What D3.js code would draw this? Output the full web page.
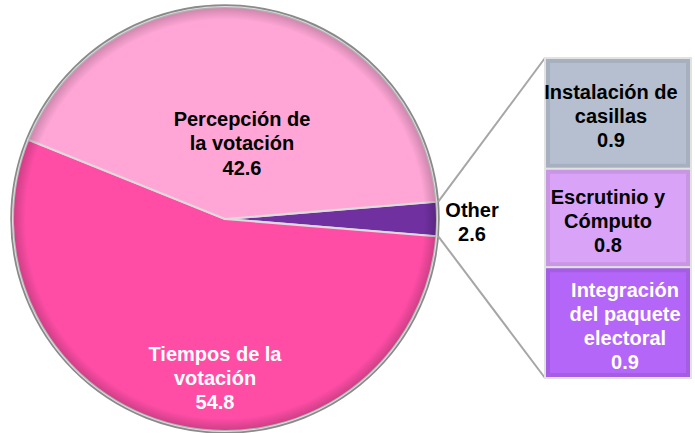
<!DOCTYPE html>
<meta charset="utf-8">
<html>
<script src='https://d3js.org/d3.v7.min.js'></script>
<body style="margin:0; background:#fff;">
<style>
    .lbl {
        font-family: "Liberation Sans", Arial, sans-serif;
        font-weight: bold;
        font-size: 20px;
    }
</style>
<div id="mydataviz"></div>

<script>
    // pie data
    var pieNames = ["Other", "Tiempos de la votación", "Percepción de la votación"];
    var pieValues = [2.6, 54.8, 42.6];
    var pieLabels = [["Other", "2.6"], ["Tiempos de la", "votación", "54.8"], ["Percepción de", "la votación", "42.6"]];
    var pieColors = ["#7030a0", "#ff4da6", "#ffa6d6"];

    // bar (breakdown of Other) data, top to bottom
    var barNames = ["Instalación de casillas", "Escrutinio y Cómputo", "Integración del paquete electoral"];
    var barValues = [0.9, 0.8, 0.9];
    var barLabels = [["Instalación de", "casillas", "0.9"], ["Escrutinio y", "Cómputo", "0.8"], ["Integración", "del paquete", "electoral", "0.9"]];
    var barColors = ["#b5bfcf", "#d9a3f7", "#b366f7"];

    var width = 695, height = 433;
    var cx = 225, cy = 219, radius = 212;

    var svg = d3.select("#mydataviz").append("svg")
        .attr("width", width)
        .attr("height", height);

    var defs = svg.append("defs");
    var rim = defs.append("radialGradient").attr("id", "rim")
        .attr("cx", "50%").attr("cy", "50%").attr("r", "50%");
    rim.append("stop").attr("offset", "94%").attr("stop-color", "#000").attr("stop-opacity", 0);
    rim.append("stop").attr("offset", "100%").attr("stop-color", "#000").attr("stop-opacity", 0.2);

    // Other slice centered on 3 o'clock
    var otherAngle = pieValues[0] / d3.sum(pieValues) * 2 * Math.PI;
    var a0 = Math.PI / 2 - otherAngle / 2;

    var pie = d3.pie().sort(null).value(function(d) {return d;})
        .startAngle(a0).endAngle(a0 + 2 * Math.PI);
    var arcs = pie(pieValues);
    var arc = d3.arc().innerRadius(0).outerRadius(radius);

    var g = svg.append("g").attr("transform", "translate(" + cx + "," + cy + ")");

    // outer shadow ring
    g.append("circle").attr("r", radius + 1.5)
        .attr("fill", "none").attr("stroke", "#8a8a8a").attr("stroke-width", 2.5);

    g.selectAll("path.slice")
        .data(arcs)
        .enter().append("path")
        .attr("class", "slice")
        .attr("d", arc)
        .attr("fill", function(d, i) {return pieColors[i];})
        .attr("stroke", "#dcdcdc")
        .attr("stroke-width", 2);

    g.append("circle").attr("r", radius).attr("fill", "url(#rim)");

    // bar of pie
    var barX = 545, barW = 146;
    var barTop = 58, barBottom = 378;
    var y = d3.scaleLinear().domain([0, d3.sum(barValues)]).range([barTop, barBottom]);
    var cum = [0];
    barValues.forEach(function(v, i) {cum.push(cum[i] + v);});

    // connector lines from Other slice edges to bar corners
    var o = arcs[0];
    var p1 = [cx + radius * Math.sin(o.startAngle), cy - radius * Math.cos(o.startAngle)];
    var p2 = [cx + radius * Math.sin(o.endAngle), cy - radius * Math.cos(o.endAngle)];
    svg.append("line").attr("x1", p1[0] + 2).attr("y1", p1[1])
        .attr("x2", barX).attr("y2", y(0))
        .attr("stroke", "#a6a6a6").attr("stroke-width", 2);
    svg.append("line").attr("x1", p2[0] + 2).attr("y1", p2[1])
        .attr("x2", barX).attr("y2", y(cum[cum.length - 1]))
        .attr("stroke", "#a6a6a6").attr("stroke-width", 2);

    svg.selectAll("rect.seg")
        .data(barValues)
        .enter().append("rect")
        .attr("class", "seg")
        .attr("x", barX)
        .attr("y", function(d, i) {return y(cum[i]);})
        .attr("width", barW)
        .attr("height", function(d) {return y(d) - y(0);})
        .attr("fill", function(d, i) {return barColors[i];})
        .attr("stroke", "#e2e2e2")
        .attr("stroke-width", 2);

    // bevel shading on bar segments
    svg.selectAll("rect.shade")
        .data(barValues)
        .enter().append("rect")
        .attr("class", "shade")
        .attr("x", barX + 3)
        .attr("y", function(d, i) {return y(cum[i]) + 3;})
        .attr("width", barW - 6)
        .attr("height", function(d) {return y(d) - y(0) - 6;})
        .attr("fill", "none")
        .attr("stroke", "#000")
        .attr("stroke-opacity", 0.08)
        .attr("stroke-width", 4);

    // text helper
    function multiline(x, yc, lines, color, lh) {
        var t = svg.append("text").attr("class", "lbl")
            .attr("text-anchor", "middle").attr("fill", color);
        var y0 = yc - (lines.length - 1) * lh / 2;
        lines.forEach(function(s, i) {
            t.append("tspan").attr("x", x).attr("y", y0 + i * lh)
                .attr("dy", "0.35em").text(s);
        });
    }

    multiline(472, 222, pieLabels[0], "#000", 24);
    multiline(215, 378, pieLabels[1], "#fff", 24);
    multiline(242, 143, pieLabels[2], "#000", 24.5);

    var barLabelX = [611, 608, 625];
    var barLabelFill = ["#000", "#000", "#fff"];
    barLabels.forEach(function(lines, i) {
        var yc = (y(cum[i]) + y(cum[i + 1])) / 2;
        multiline(barLabelX[i], yc + 3, lines, barLabelFill[i], 24);
    });
</script>

</body>
</html>
